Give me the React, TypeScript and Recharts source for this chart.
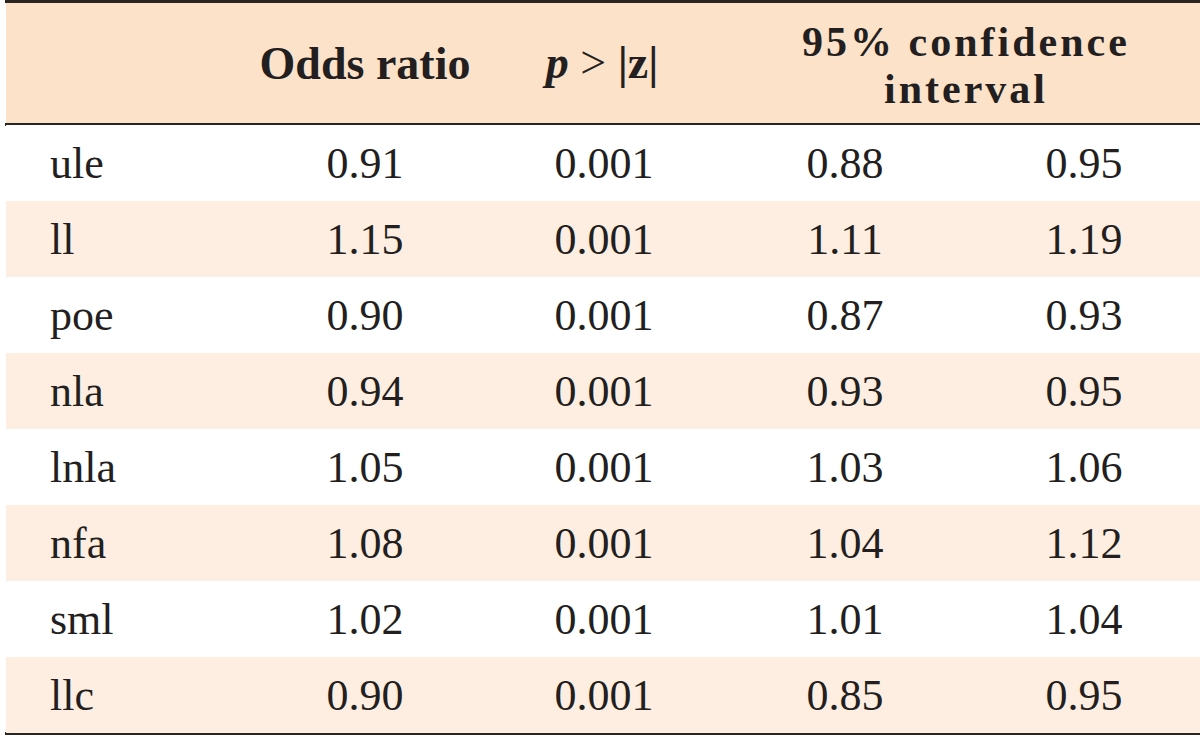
import { BarChart, Bar, XAxis, YAxis, Cell, LabelList, Customized } from 'recharts';

const variables = ['ule', 'll', 'poe', 'nla', 'lnla', 'nfa', 'sml', 'llc'];
const oddsRatio = ['0.91', '1.15', '0.90', '0.94', '1.05', '1.08', '1.02', '0.90'];
const pValue = ['0.001', '0.001', '0.001', '0.001', '0.001', '0.001', '0.001', '0.001'];
const ciLower = ['0.88', '1.11', '0.87', '0.93', '1.03', '1.04', '1.01', '0.85'];
const ciUpper = ['0.95', '1.19', '0.93', '0.95', '1.06', '1.12', '1.04', '0.95'];

const W = 1200;
const H = 737;
const LEFT = 6;
const HEADER = 125;
const BOTTOM = 4;
const FONT = '"Liberation Serif", "Times New Roman", serif';
const INK = '#231f20';
const HEADER_BG = '#fde2ca';
const STRIPE = '#feeee1';

const data = variables.map((name, i) => ({
  name,
  band: 1,
  or: oddsRatio[i],
  p: pValue[i],
  lo: ciLower[i],
  hi: ciUpper[i],
}));

const cell = (cx: number, anchor: 'start' | 'middle' = 'middle') => (props: any) => {
  const { y, height, value } = props;
  return (
    <text
      x={cx}
      y={y + height / 2 + 15}
      textAnchor={anchor}
      fontFamily={FONT}
      fontSize={44}
      fill={INK}
    >
      {value}
    </text>
  );
};

function HeaderLayer() {
  const bottom = H - BOTTOM;
  return (
    <g fontFamily={FONT} fill={INK}>
      <rect x={LEFT} y={2} width={W - LEFT} height={HEADER - 3} fill={HEADER_BG} />
      <rect x={LEFT - 1} y={0} width={W - LEFT + 1} height={3} fill="#2b2522" />
      <rect x={LEFT - 1} y={HEADER - 2} width={W - LEFT + 1} height={3} fill="#2b2522" />
      <rect x={LEFT - 1} y={bottom - 1} width={W - LEFT + 1} height={3} fill="#2b2522" />
      <text x={365} y={79} textAnchor="middle" fontSize={46} fontWeight="bold">
        Odds ratio
      </text>
      <text x={602} y={78} textAnchor="middle" fontSize={46}>
        <tspan fontWeight="bold" fontStyle="italic">p</tspan>
        <tspan> &gt; </tspan>
        <tspan fontWeight="bold">|z|</tspan>
      </text>
      {/* two-line header, tight leading as in the source */}
      <text textAnchor="middle" fontSize={42} fontWeight="bold" letterSpacing={3}>
        <tspan x={966} y={56}>95% confidence</tspan>
        <tspan x={966} y={103}>interval</tspan>
      </text>
    </g>
  );
}

export default function App() {
  return (
    <div style={{ position: 'absolute', left: 0, top: 0, background: '#fff' }}>
      <BarChart
        width={W}
        height={H}
        data={data}
        layout="vertical"
        margin={{ top: HEADER, right: 0, bottom: BOTTOM, left: LEFT }}
        barCategoryGap={0}
      >
        <XAxis type="number" domain={[0, 1]} hide />
        <YAxis type="category" dataKey="name" hide />
        <Bar dataKey="band" isAnimationActive={false}>
          {data.map((d, i) => (
            <Cell key={d.name} fill={i % 2 === 1 ? STRIPE : '#ffffff'} />
          ))}
          <LabelList dataKey="name" content={cell(50, 'start')} />
          <LabelList dataKey="or" content={cell(365)} />
          <LabelList dataKey="p" content={cell(604)} />
          <LabelList dataKey="lo" content={cell(845)} />
          <LabelList dataKey="hi" content={cell(1084)} />
        </Bar>
        <Customized component={HeaderLayer} />
      </BarChart>
    </div>
  );
}
